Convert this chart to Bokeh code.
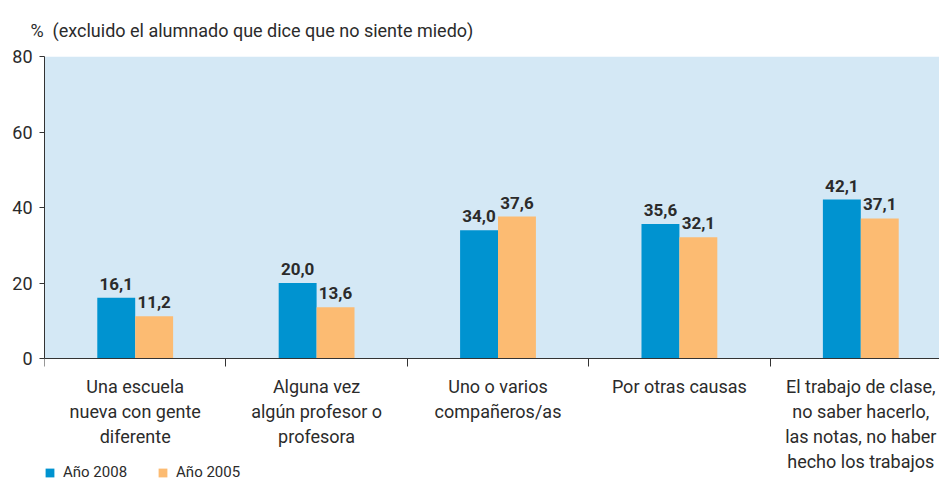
from bokeh.plotting import figure
from bokeh.models import Range1d, FixedTicker, ColumnDataSource, Legend, LegendItem, BoxAnnotation
from bokeh.embed import file_html
from bokeh.resources import INLINE
from bokeh.core.properties import value

# ---- data ----
categories = [
    "Una escuela\nnueva con gente\ndiferente",
    "Alguna vez\nalgún profesor o\nprofesora",
    "Uno o varios\ncompañeros/as",
    "Por otras causas",
    "El trabajo de clase,\nno saber hacerlo,\nlas notas, no haber\nhecho los trabajos",
]
series_names = ["Año 2008", "Año 2005"]
values_2008 = [16.1, 20.0, 34.0, 35.6, 42.1]
values_2005 = [11.2, 13.6, 37.6, 32.1, 37.1]
y_ticks = [0, 20, 40, 60, 80]
y_max = 80
title_text = "%\u00a0\u00a0(excluido el alumnado que dice que no siente miedo)"

# ---- styling ----
FONT = "Roboto"
BLUE = "#0093d0"
ORANGE = "#fcbb72"
BG = "#d4e8f5"
TXT = "#2b2b2b"
bar_w = 0.209
off = bar_w / 2
px_per_unit = 302 / 80           # vertical scale of the value axis
below_px = 123                   # room under the zero line for the category labels

idx = list(range(len(categories)))
fmt = lambda v: f"{v:.1f}".replace(".", ",")

src08 = ColumnDataSource(dict(x=[i - off for i in idx], top=values_2008,
                              lab=[fmt(v) for v in values_2008]))
src05 = ColumnDataSource(dict(x=[i + off for i in idx], top=values_2005,
                              lab=[fmt(v) for v in values_2005]))

p = figure(width=939, height=481, output_backend="svg", toolbar_location=None,
           x_range=Range1d(-0.5, -0.5 + 895 / 181.4),
           y_range=Range1d(-below_px / px_per_unit, y_max),
           min_border_left=44, min_border_right=0, min_border_top=56, min_border_bottom=0,
           background_fill_color="white", border_fill_color="white", outline_line_color=None)

# light-blue plotting area between 0 and the top of the value axis
p.add_layout(BoxAnnotation(bottom=0, fill_color=BG, fill_alpha=1, line_color=None, level="underlay"))

p.title.text = title_text
p.title.align = "left"
p.title.offset = -14
p.title.text_font = FONT
p.title.text_font_size = "18px"
p.title.text_font_style = "normal"
p.title.text_color = TXT
p.title.standoff = 31

r08 = p.vbar(x="x", top="top", bottom=0, width=bar_w, source=src08, fill_color=BLUE, line_color=None)
r05 = p.vbar(x="x", top="top", bottom=0, width=bar_w, source=src05, fill_color=ORANGE, line_color=None)

for s in (src08, src05):
    p.text(x="x", y="top", text="lab", source=s, text_font=value(FONT), text_font_style="bold",
           text_font_size="17px", text_color=TXT, text_align="center", text_baseline="bottom",
           y_offset=-8)

# grid
p.xgrid.visible = False
p.ygrid.ticker = FixedTicker(ticks=[20, 40, 60])
p.ygrid.grid_line_color = "#a8a8a8"
p.ygrid.grid_line_dash = "6 4"
p.ygrid.grid_line_width = 1.5

# y axis
p.yaxis.ticker = FixedTicker(ticks=y_ticks)
p.yaxis.bounds = (0, y_max)
p.yaxis.major_label_text_font = FONT
p.yaxis.major_label_text_font_size = "18px"
p.yaxis.major_label_text_color = TXT
p.yaxis.major_tick_out = 5
p.yaxis.major_tick_in = 0
p.yaxis.minor_tick_out = 0
p.yaxis.minor_tick_in = 0
p.yaxis.major_label_standoff = 7
p.yaxis.axis_line_color = "#333333"
p.yaxis.major_tick_line_color = "#333333"

# x axis, pinned at zero
p.xaxis.fixed_location = 0
p.xaxis.ticker = FixedTicker(ticks=idx, minor_ticks=[i - 0.5 for i in range(len(categories) + 1)])
p.xaxis.major_label_overrides = {i: c for i, c in zip(idx, categories)}
p.xaxis.major_label_text_font = FONT
p.xaxis.major_label_text_font_size = "18px"
p.xaxis.major_label_text_color = TXT
p.xaxis.major_tick_out = 0
p.xaxis.major_tick_in = 0
p.xaxis.minor_tick_out = 8
p.xaxis.minor_tick_in = 0
p.xaxis.major_label_standoff = 9
p.xaxis.axis_line_color = "#333333"
p.xaxis.minor_tick_line_color = "#333333"

legend = Legend(items=[LegendItem(label=series_names[0], renderers=[r08]),
                       LegendItem(label=series_names[1], renderers=[r05])],
                orientation="horizontal", location=(0, 0), border_line_color=None,
                background_fill_alpha=0, padding=0, margin=0, glyph_width=11, glyph_height=11,
                label_height=14, label_text_font=FONT, label_text_font_size="15px",
                label_text_color=TXT, spacing=30, label_standoff=8)
p.add_layout(legend)

open("out.html", "w").write(file_html(p, INLINE))
